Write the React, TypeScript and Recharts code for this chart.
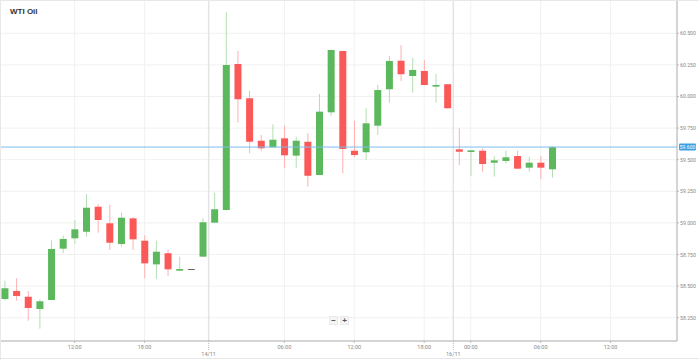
import React from 'react';
import { ComposedChart, Bar, XAxis, YAxis, CartesianGrid, ReferenceLine } from 'recharts';

// Hourly OHLC candles (index 0 = 13/11 06:00)
const opens = [58.398, 58.461, 58.416, 58.319, 58.390, 58.796, 58.878, 58.930, 59.128, 58.997, 58.833, 59.036, 58.859, 58.672, 58.760, 58.622, 58.635, 58.733, 59.002, 59.102, 60.257, 59.986, 59.650, 59.598, 59.669, 59.532, 59.642, 59.379, 59.875, 60.360, 59.571, 59.559, 59.769, 60.057, 60.283, 60.162, 60.202, 60.078, 60.097, 59.582, 59.561, 59.571, 59.476, 59.490, 59.529, 59.437, 59.476, 59.424];
const highs = [58.543, 58.562, 58.461, 58.396, 58.862, 58.902, 59.023, 59.229, 59.149, 59.144, 59.081, 59.045, 58.902, 58.859, 58.786, 58.733, 58.636, 59.036, 59.239, 60.666, 60.360, 60.046, 59.695, 59.780, 59.769, 59.682, 59.709, 60.020, 60.370, 60.362, 59.809, 59.907, 60.091, 60.320, 60.407, 60.307, 60.289, 60.178, 60.099, 59.748, 59.576, 59.590, 59.529, 59.571, 59.571, 59.524, 59.529, 59.608];
const lows = [58.385, 58.385, 58.226, 58.163, 58.388, 58.760, 58.833, 58.891, 58.922, 58.786, 58.812, 58.786, 58.562, 58.556, 58.580, 58.620, 58.634, 58.731, 58.999, 59.100, 59.793, 59.551, 59.571, 59.596, 59.432, 59.432, 59.286, 59.377, 59.846, 59.392, 59.519, 59.498, 59.695, 59.951, 60.123, 60.030, 60.089, 59.951, 59.905, 59.458, 59.371, 59.405, 59.366, 59.471, 59.427, 59.405, 59.345, 59.358];
const closes = [58.483, 58.422, 58.327, 58.380, 58.794, 58.873, 58.949, 59.120, 59.023, 58.843, 59.041, 58.870, 58.680, 58.772, 58.633, 58.635, 58.635, 59.005, 59.108, 60.249, 59.978, 59.642, 59.590, 59.658, 59.535, 59.650, 59.373, 59.880, 60.368, 59.585, 59.537, 59.788, 60.051, 60.281, 60.176, 60.210, 60.091, 60.091, 59.907, 59.563, 59.574, 59.466, 59.495, 59.519, 59.429, 59.476, 59.437, 59.600];

const currentPrice = 59.6;
const yTicks = [58.25, 58.5, 58.75, 59.0, 59.25, 59.5, 59.75, 60.0, 60.25, 60.5];
const timeTickPositions = [6, 12, 24, 30, 36, 40, 46, 52];
const timeTickLabels = ['12:00', '18:00', '06:00', '12:00', '18:00', '00:00', '06:00', '12:00'];
const dateSepPositions = [17.5, 38.5];
const dateSepLabels = ['14/11', '16/11'];

const data = opens.map((o, i) => ({
  idx: i,
  open: o,
  high: highs[i],
  low: lows[i],
  close: closes[i],
  range: [lows[i], highs[i]],
}));

const GREEN = '#5cb85c';
const RED = '#fb5858';
const GREEN_WICK = '#b3dfb3';
const RED_WICK = '#ffb0b0';
const FONT = 'Roboto, "Liberation Sans", Arial, sans-serif';

const Candle = (props: any) => {
  const { x, y, width, height, payload } = props;
  if (x == null || y == null || !payload) return null;
  const { open, close, high, low } = payload;
  const top = Math.min(y, y + height);
  const h = Math.abs(height);
  const range = high - low;
  const py = (v: number) => (range === 0 ? top : top + ((high - v) / range) * h);
  const cx = x + width / 2;
  const up = close > open;
  const flat = close === open;
  const body = flat ? '#666' : up ? GREEN : RED;
  const wick = flat ? '#999' : up ? GREEN_WICK : RED_WICK;
  const bTop = py(Math.max(open, close));
  const bBot = py(Math.min(open, close));
  const bh = Math.max(1, bBot - bTop);
  const bw = 7;
  return (
    <g>
      <line x1={cx} x2={cx} y1={top} y2={top + h} stroke={wick} strokeWidth={1} />
      <rect x={cx - bw / 2} y={bTop} width={bw} height={bh} fill={body} />
    </g>
  );
};

const XTick = (props: any) => {
  const { x, y, payload } = props;
  const v = payload.value;
  const di = dateSepPositions.indexOf(v);
  if (di >= 0) {
    return (
      <g>
        <line x1={x} x2={x} y1={y} y2={y + 9} stroke="#bbb" strokeDasharray="1 1" />
        <text x={x} y={y + 15} textAnchor="middle" fontSize={5.5} fill="#888" fontFamily={FONT}>
          {dateSepLabels[di]}
        </text>
      </g>
    );
  }
  const ti = timeTickPositions.indexOf(v);
  return (
    <g>
      <line x1={x} x2={x} y1={y} y2={y + 2} stroke="#bbb" />
      <text x={x} y={y + 8} textAnchor="middle" fontSize={5.5} fill="#888" fontFamily={FONT}>
        {ti >= 0 ? timeTickLabels[ti] : ''}
      </text>
    </g>
  );
};

const YTick = (props: any) => {
  const { x, y, payload } = props;
  return (
    <g>
      <line x1={x - 3} x2={x - 1} y1={y} y2={y} stroke="#bbb" />
      <text x={x} y={y + 2} textAnchor="start" fontSize={5.2} fill="#888" fontFamily={FONT}>
        {Number(payload.value).toFixed(3)}
      </text>
    </g>
  );
};

const PriceLabel = (props: any) => {
  const vb = props.viewBox || {};
  const x = (vb.x || 0) + (vb.width || 0) + 2;
  const y = vb.y || 0;
  return (
    <g>
      <rect x={x} y={y - 3.5} width={17} height={7} rx={1} fill="#3d9fe3" />
      <text x={x + 8.5} y={y + 1.8} textAnchor="middle" fontSize={5.2} fill="#fff" fontFamily={FONT}>
        {currentPrice.toFixed(3)}
      </text>
    </g>
  );
};

export default function App() {
  return (
    <div style={{ position: 'absolute', left: 0, top: 0, width: 699, height: 360, background: '#fff', overflow: 'hidden' }}>
      <ComposedChart
        width={699}
        height={360}
        data={data}
        margin={{ top: 1, right: 0, bottom: 0, left: 0 }}
      >
        <CartesianGrid stroke="#f1f1f1" horizontalValues={yTicks} verticalValues={timeTickPositions} />
        {dateSepPositions.map((p) => (
          <ReferenceLine key={p} x={p} stroke="#e3e3e3" strokeWidth={1.5} />
        ))}
        <XAxis
          dataKey="idx"
          type="number"
          domain={[-0.41, 57.7]}
          allowDataOverflow
          ticks={[...timeTickPositions, ...dateSepPositions]}
          interval={0}
          height={19}
          axisLine={{ stroke: '#aaa' }}
          tickLine={false}
          tickSize={0}
          tickMargin={0}
          tick={<XTick />}
        />
        <YAxis
          orientation="right"
          type="number"
          domain={[58.0657, 60.7555]}
          allowDataOverflow
          ticks={yTicks}
          width={22}
          axisLine={{ stroke: '#aaa' }}
          tickLine={false}
          tickMargin={0}
          tickSize={3}
          tick={<YTick />}
        />
        <Bar dataKey="range" barSize={8} shape={<Candle />} isAnimationActive={false} />
        <ReferenceLine y={currentPrice} stroke="#7cbdeb" strokeWidth={1} label={<PriceLabel />} />
      </ComposedChart>
      <div style={{ position: 'absolute', left: 0, top: 0, width: 699, height: 1, background: '#e8e8e8' }} />
      <div style={{ position: 'absolute', left: 0, top: 0, width: 1, height: 360, background: '#e8e8e8' }} />
      <div style={{ position: 'absolute', left: 0, top: 358, width: 699, height: 1, background: '#e6e6e6' }} />
      <div style={{ position: 'absolute', left: 10, top: 7, fontFamily: '"Liberation Sans", Arial, sans-serif', fontWeight: 'bold', fontSize: 8, color: '#333', lineHeight: '10px' }}>
        WTI Oil
      </div>
      <div style={{ position: 'absolute', left: 329, top: 316, display: 'flex', gap: 2 }}>
        <div style={{ width: 9, height: 9, background: '#f4f4f4', border: '1px solid #eaeaea', boxSizing: 'border-box', fontFamily: 'Arial, sans-serif', fontSize: 8, lineHeight: '7px', textAlign: 'center', color: '#555', fontWeight: 'bold' }}>−</div>
        <div style={{ width: 9, height: 9, background: '#f4f4f4', border: '1px solid #eaeaea', boxSizing: 'border-box', fontFamily: 'Arial, sans-serif', fontSize: 8, lineHeight: '7px', textAlign: 'center', color: '#555', fontWeight: 'bold' }}>+</div>
      </div>
    </div>
  );
}
